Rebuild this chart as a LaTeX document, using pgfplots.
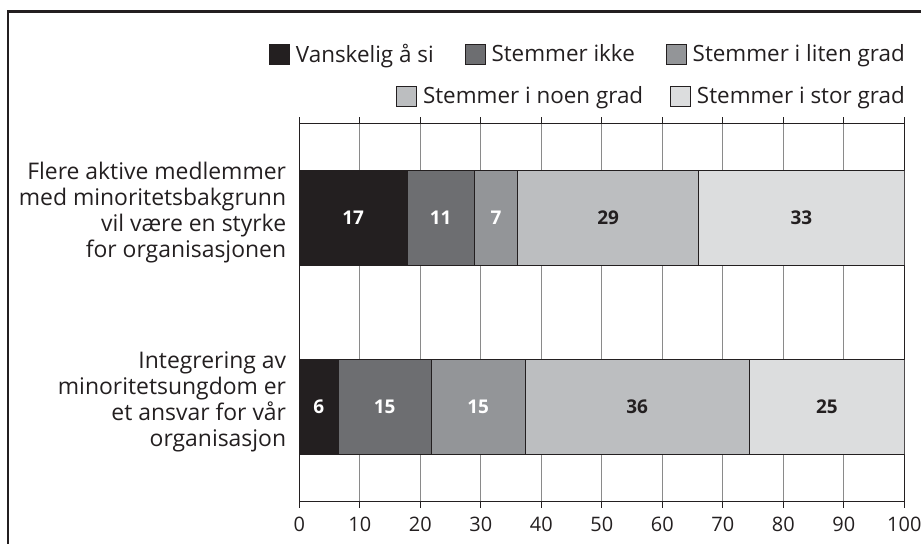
\documentclass[border=0pt]{standalone}
\usepackage{fontspec}
\setmainfont{Open Sans}
\usepackage{pgfplots}
\usepackage{pgfplotstable}
\pgfplotsset{compat=1.18}
\definecolor{c1}{HTML}{231F20}
\definecolor{c2}{HTML}{6D6E71}
\definecolor{c3}{HTML}{939598}
\definecolor{c4}{HTML}{BCBEC0}
\definecolor{c5}{HTML}{DCDDDE}
\definecolor{gridc}{HTML}{8A8A8A}

% y: 0 = Integrering..., 1 = Flere aktive...
\pgfplotstableread{
y w lab
0 6.4 6
1 17.8 17
}\tA
\pgfplotstableread{
y w lab
0 15.4 15
1 11.1 11
}\tB
\pgfplotstableread{
y w lab
0 15.5 15
1 7.2 7
}\tC
\pgfplotstableread{
y w lab
0 37.1 36
1 29.9 29
}\tD
\pgfplotstableread{
y w lab
0 25.6 25
1 34.0 33
}\tE

\newcommand\ylab{\fontsize{23}{26}\selectfont}
\pgfplotsset{
  seg/.style n args={2}{
    fill=#1, draw=c1, line width=0.8bp,
    nodes near coords, point meta=explicit symbolic,
    every node near coord/.append style={#2, anchor=center,
      font=\bfseries\fontsize{19}{22}\selectfont},
  },
  sqlegend/.style={
    legend image code/.code={\draw[##1, draw=c1, line width=0.8bp] (0bp,-10bp) rectangle (20bp,10bp);},
  },
}

\begin{document}
\begin{tikzpicture}[x=1bp,y=1bp]
\useasboundingbox (0,0) rectangle (921,544);
\draw[line width=2.7bp, color=c1] (8,0) -- (8,532.7) -- (921,532.7);
\begin{axis}[
  at={(299.3bp,42.3bp)}, anchor=south west,
  scale only axis, width=605bp, height=378.4bp,
  xbar stacked, bar width=0.5,
  xmin=0, xmax=100, ymin=-0.5, ymax=1.5,
  xtick={0,10,...,100},
  xmajorgrids, grid style={gridc, line width=0.9bp},
  ytick={0,1},
  yticklabels={{Integrering av\\minoritetsungdom er\\et ansvar for vår\\organisasjon},
               {Flere aktive medlemmer\\med minoritetsbakgrunn\\vil være en styrke\\for organisasjonen}},
  y tick style={draw=none},
  x tick style={c1, line width=0.9bp},
  major tick length=6bp, tick align=outside,
  axis line style={c1, line width=1.5bp},
  /pgf/number format/assume math mode=true,
  x tick label style={font=\fontsize{20}{24}\selectfont, color=c1, yshift=-6bp},
  y tick label style={align=right, font=\ylab, color=c1, inner sep=0pt, xshift=-7bp, yshift=5bp},
  sqlegend,
  legend style={draw=none, fill=none, at={(1.0045,1.183)}, anchor=east,
    inner sep=0pt, legend columns=3,
    font=\fontsize{22.5}{26}\selectfont, text=c1,
    nodes={inner sep=2bp},
    /tikz/every even column/.append style={column sep=29bp},
    /tikz/every odd column/.append style={column sep=4bp}},
]
\addplot[seg={c1}{white}] table[x=w, y=y, meta=lab] {\tA};
\addplot[seg={c2}{white}] table[x=w, y=y, meta=lab] {\tB};
\addplot[seg={c3}{white}] table[x=w, y=y, meta=lab] {\tC};
\addplot[seg={c4}{c1}, forget plot] table[x=w, y=y, meta=lab] {\tD};
\addplot[seg={c5}{c1}, forget plot] table[x=w, y=y, meta=lab] {\tE};
\legend{Vanskelig å si, Stemmer ikke, Stemmer i liten grad}
\end{axis}
\begin{axis}[
  at={(299.3bp,42.3bp)}, anchor=south west,
  scale only axis, width=605bp, height=378.4bp,
  xmin=0, xmax=100, ymin=-0.5, ymax=1.5,
  hide axis,
  sqlegend,
  legend style={draw=none, fill=none, at={(1.0045,1.072)}, anchor=east,
    inner sep=0pt, legend columns=2,
    font=\fontsize{22.5}{26}\selectfont, text=c1,
    nodes={inner sep=2bp},
    /tikz/every even column/.append style={column sep=25bp},
    /tikz/every odd column/.append style={column sep=4bp}},
]
\addlegendimage{fill=c4}
\addlegendentry{Stemmer i noen grad}
\addlegendimage{fill=c5}
\addlegendentry{Stemmer i stor grad}
\end{axis}
\end{tikzpicture}
\end{document}
